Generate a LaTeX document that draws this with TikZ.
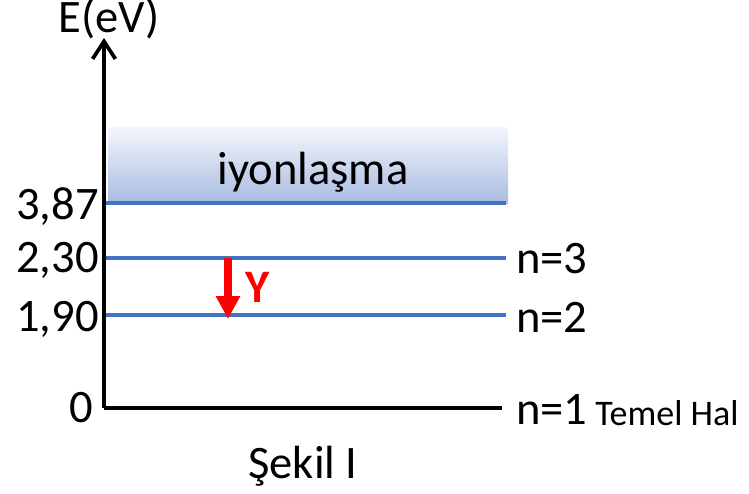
\documentclass[tikz,border=0pt]{standalone}
\usepackage{fontspec}
\setmainfont{Carlito}
\usetikzlibrary{arrows.meta}
\definecolor{lvl}{HTML}{4472C4}
\definecolor{bandtop}{HTML}{F3F5FB}
\definecolor{bandbot}{HTML}{A8BBE1}
\definecolor{arr}{HTML}{FF0000}
\tikzset{
  big/.style={inner sep=0pt, font=\fontsize{26.5}{31}\selectfont},
  small/.style={inner sep=0pt, font=\fontsize{20.5}{24}\selectfont},
  level/.style={draw=lvl, line width=2pt},
  axis/.style={draw=black, line width=2.1pt},
}
\begin{document}
\begin{tikzpicture}[x=0.02cm,y=-0.02cm]
\useasboundingbox (0,0) rectangle (749,493);
% ionization band
\shade[top color=bandtop, bottom color=bandbot] (108,128) rectangle (508,203);
\node[big, anchor=base] (ion) at (313,184) {iyonlaşma};
% levels
\coordinate (l1a) at (106,203); \coordinate (l1b) at (506,203);
\coordinate (l2a) at (106,258); \coordinate (l2b) at (506,258);
\coordinate (l3a) at (106,315); \coordinate (l3b) at (506,315);
\draw[level] (l1a) -- (l1b);
\draw[level] (l2a) -- (l2b);
\draw[level] (l3a) -- (l3b);
% axes
\coordinate (o) at (104,408);
\coordinate (ytop) at (104,38);
\coordinate (xend) at (502,408);
\draw[axis, -{Straight Barb[length=10pt,width=13pt,line width=2.1pt]}] (o) -- (ytop);
\draw[axis] (o) -- (xend);
\node[big, anchor=base] (E) at (109,33) {E(eV)};
% left labels
\node[big, anchor=base east] (v1) at (99,219) {3,87};
\node[big, anchor=base east] (v2) at (99,272) {2,30};
\node[big, anchor=base east] (v3) at (99,331) {1,90};
\node[big, anchor=base east] (v0) at (93,422) {0};
% right labels
\node[big, anchor=base west] (n3) at (516,273) {n=3};
\node[big, anchor=base west] (n2) at (516,332) {n=2};
\node[big, anchor=base west] (n1) at (516,424) {n=1};
\node[small, anchor=base west] (th) at (595,425) {Temel Hal};
% transition arrow
\coordinate (ya) at (228,258);
\coordinate (yb) at (228,319);
\draw[arr, line width=4pt, -{Triangle[length=13pt,width=13pt]}] (ya) -- (yb);
\node[big, anchor=base, text=arr, font=\fontsize{26.5}{31}\selectfont\bfseries] (Y) at (258,302) {Y};
% caption
\node[big, anchor=base] (cap) at (303,478) {Şekil I};
\end{tikzpicture}
\end{document}
